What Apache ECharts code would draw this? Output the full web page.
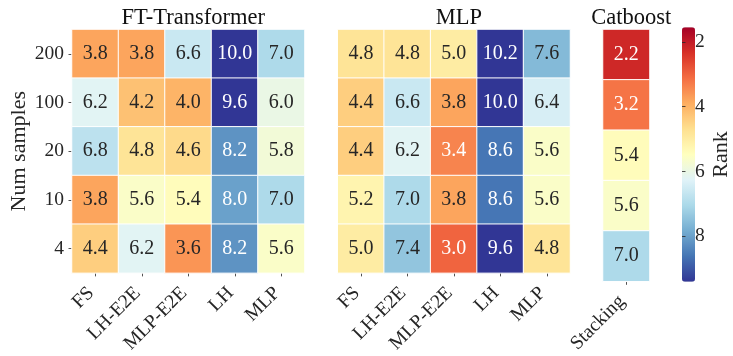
<!DOCTYPE html>
<html>
<head>
<meta charset="utf-8">
<script src="https://cdn.jsdelivr.net/npm/echarts@6/dist/echarts.min.js"></script>
<style>
  html, body { margin: 0; padding: 0; background: #fff; }
  #chart { width: 733px; height: 356px; }
</style>
</head>
<body>
<div id="chart"></div>
<script>
// Row labels (bottom to top) and column labels of each panel
const sampleSizes = ['4', '10', '20', '100', '200'];
const methodCols = ['FS', 'LH-E2E', 'MLP-E2E', 'LH', 'MLP'];
const catboostCols = ['Stacking'];

// Mean ranks, one row per sample size, listed from 200 down to 4
const ftTransformerRanks = [
  [3.8, 3.8, 6.6, 10.0, 7.0],  // 200
  [6.2, 4.2, 4.0, 9.6, 6.0],   // 100
  [6.8, 4.8, 4.6, 8.2, 5.8],   // 20
  [3.8, 5.6, 5.4, 8.0, 7.0],   // 10
  [4.4, 6.2, 3.6, 8.2, 5.6]    // 4
];
const mlpRanks = [
  [4.8, 4.8, 5.0, 10.2, 7.6],
  [4.4, 6.6, 3.8, 10.0, 6.4],
  [4.4, 6.2, 3.4, 8.6, 5.6],
  [5.2, 7.0, 3.8, 8.6, 5.6],
  [5.0, 7.4, 3.0, 9.6, 4.8]
];
const catboostRanks = [
  [2.2],
  [3.2],
  [5.4],
  [5.6],
  [7.0]
];

const panelTitles = ['FT-Transformer', 'MLP', 'Catboost'];
const rankTicks = [2, 4, 6, 8];

// Colour scale limits of the colour bar
const RANK_MIN = 1.55;
const RANK_MAX = 9.4;

const SERIF = '"Liberation Serif", "DejaVu Serif", serif';
const INK = '#262626';

// rows are listed top-down; the category axis runs bottom-up
function toCells(matrix) {
  const out = [];
  const n = matrix.length;
  matrix.forEach((row, r) => {
    row.forEach((v, c) => {
      const clamped = Math.min(Math.max(v, RANK_MIN), RANK_MAX);
      out.push([c, n - 1 - r, v, clamped]);
    });
  });
  return out;
}

const rdylbu = ['#a50026', '#d73027', '#f46d43', '#fdae61', '#fee090', '#ffffbf',
                '#e0f3f8', '#abd9e9', '#74add1', '#4575b4', '#313695'];

// panel geometry
const TOP = 29.5, HEIGHT = 252.2;
const panels = [
  { left: 72, width: 232.5, cols: methodCols, data: ftTransformerRanks, showY: true },
  { left: 337.7, width: 232.3, cols: methodCols, data: mlpRanks, showY: false },
  { left: 603, width: 46.5, cols: catboostCols, data: catboostRanks, showY: false }
];

const grids = [], xAxes = [], yAxes = [], series = [], titles = [];

panels.forEach((p, i) => {
  grids.push({ left: p.left, top: TOP, width: p.width, height: HEIGHT });
  xAxes.push({
    type: 'category', gridIndex: i, data: p.cols, position: 'bottom',
    axisLine: { show: false },
    axisTick: { show: true, alignWithLabel: true, length: 3.5, lineStyle: { color: INK, width: 0.8 } },
    axisLabel: {
      rotate: 45, margin: 13, interval: 0, padding: [0, 6, 0, 0],
      fontFamily: SERIF, fontSize: 19.5, color: INK
    },
    splitLine: { show: false }
  });
  yAxes.push({
    type: 'category', gridIndex: i, data: sampleSizes,
    name: p.showY ? 'Num samples' : '',
    nameLocation: 'middle', nameGap: 42, nameRotate: 90,
    nameTextStyle: { fontFamily: SERIF, fontSize: 22, color: INK },
    axisLine: { show: false },
    axisTick: { show: p.showY, alignWithLabel: true, length: 3.5, lineStyle: { color: INK, width: 0.8 } },
    axisLabel: { show: p.showY, margin: 8, fontFamily: SERIF, fontSize: 19.5, color: INK },
    splitLine: { show: false }
  });
  series.push({
    type: 'heatmap', xAxisIndex: i, yAxisIndex: i,
    data: toCells(p.data),
    itemStyle: { borderColor: '#fff', borderWidth: 1 },
    label: {
      show: true, fontFamily: SERIF, fontSize: 20,
      formatter: (d) => d.value[2].toFixed(1),
      color: INK
    },
    emphasis: { disabled: true }
  });
  titles.push({
    text: panelTitles[i], left: p.left + p.width / 2, top: 2, textAlign: 'center',
    textStyle: { fontFamily: SERIF, fontSize: 22.5, fontWeight: 'normal', color: '#111' }
  });
});

// per-cell text colour: light text on dark cells
series.forEach(s => {
  s.data = s.data.map(d => {
    const v = d[2];
    const dark = v < 3.5 || v > 7.8;
    return { value: d, label: { color: dark ? '#ffffff' : INK } };
  });
});

// colour bar axis (ticks and "Rank" label)
const cbIndex = panels.length;
grids.push({ left: 682, top: 27.3, width: 13, height: 254.4 });
xAxes.push({ type: 'value', gridIndex: cbIndex, show: false, min: 0, max: 1 });
yAxes.push({
  type: 'value', gridIndex: cbIndex, position: 'right', inverse: true,
  min: RANK_MIN, max: RANK_MAX,
  name: 'Rank', nameLocation: 'middle', nameGap: 21, nameRotate: 90,
  nameTextStyle: { fontFamily: SERIF, fontSize: 22, color: INK },
  axisLine: { show: false },
  axisTick: { show: true, length: 3.5, customValues: rankTicks, lineStyle: { color: INK, width: 0.8 } },
  axisLabel: { show: true, margin: 6, customValues: rankTicks, fontFamily: SERIF, fontSize: 19.5, color: INK },
  splitLine: { show: false },
  z: 10
});

const chart = echarts.init(document.getElementById('chart'), null, { renderer: 'canvas' });
chart.setOption({
  backgroundColor: '#ffffff',
  animation: false,
  title: titles,
  grid: grids,
  xAxis: xAxes,
  yAxis: yAxes,
  visualMap: {
    type: 'continuous',
    min: RANK_MIN, max: RANK_MAX,
    dimension: 3,
    seriesIndex: [0, 1, 2],
    calculable: false,
    hoverLink: false,
    realtime: false,
    inverse: true,
    orient: 'vertical',
    left: 677, top: 22.3,
    itemWidth: 13, itemHeight: 254.4,
    padding: 5,
    text: null,
    showLabel: false,
    z: 1,
    inRange: { color: rdylbu }
  },
  series: series
});
</script>
</body>
</html>
